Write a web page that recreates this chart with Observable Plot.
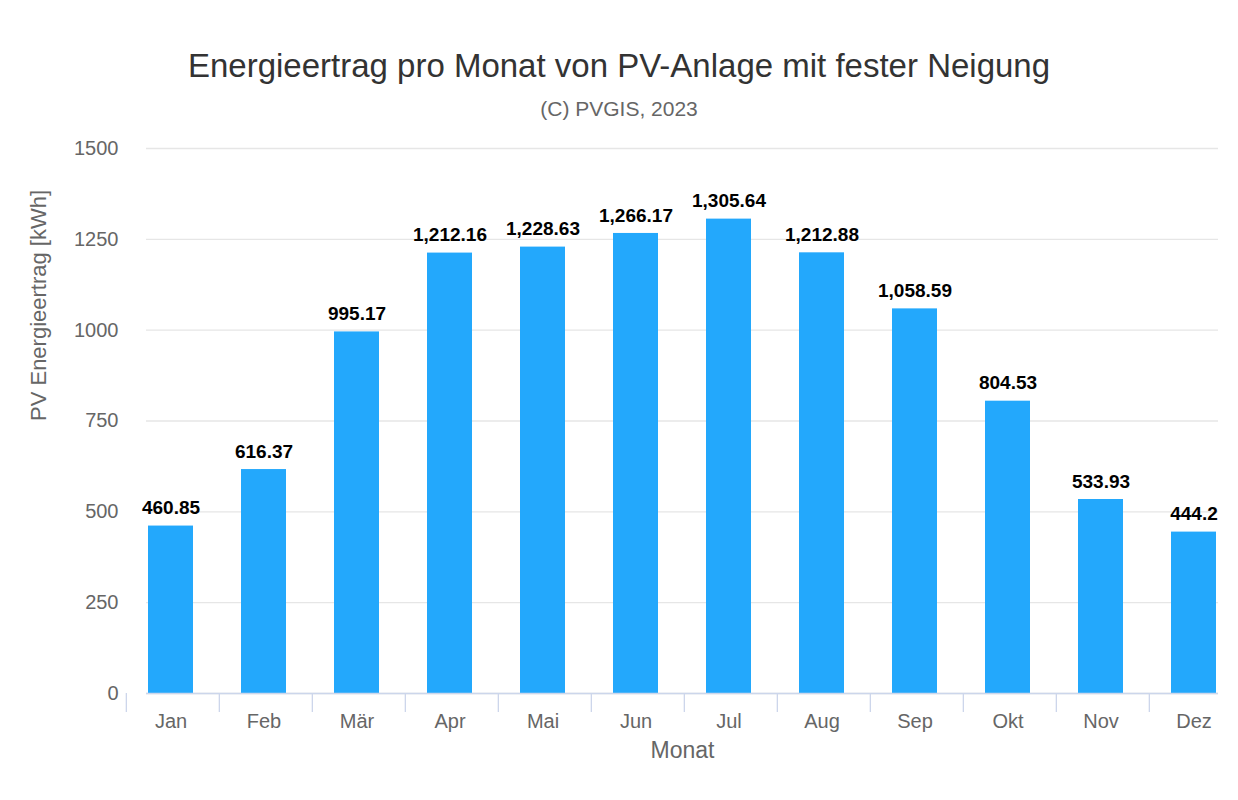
<!DOCTYPE html>
<html><head><meta charset="utf-8">
<script src="https://cdn.jsdelivr.net/npm/d3@7"></script>
<script src="https://cdn.jsdelivr.net/npm/@observablehq/plot@0.6"></script>
<style>
body{margin:0;background:#fff;font-family:"Liberation Sans",Arial,sans-serif;}
#t{position:absolute;top:47px;left:0;width:1238px;text-align:center;font-size:33px;color:#333;}
#s{position:absolute;top:97px;left:0;width:1238px;text-align:center;font-size:21px;color:#666;}
#c{position:absolute;top:130px;left:0;}
</style></head><body>
<div id="t">Energieertrag pro Monat von PV-Anlage mit fester Neigung</div>
<div id="s">(C) PVGIS, 2023</div>
<div id="c"></div>
<script>
const months=["Jan","Feb","Mär","Apr","Mai","Jun","Jul","Aug","Sep","Okt","Nov","Dez"];
const values=[460.85,616.37,995.17,1212.16,1228.63,1266.17,1305.64,1212.88,1058.59,804.53,533.93,444.2];
const yTicks=[0,250,500,750,1000,1250,1500];
const data=months.map((m,i)=>({m,v:values[i]}));
const step=(1238-146-20)/12;
const chart=Plot.plot({
  width:1238,height:670,marginTop:18,marginBottom:107,marginLeft:146,marginRight:20,
  style:{fontFamily:"'Liberation Sans', Arial, sans-serif",fontSize:"20px",color:"#666",background:"#fff"},
  x:{domain:months,paddingInner:0.52,paddingOuter:0,align:0.5,label:null,tickSize:0,tickPadding:20},
  y:{domain:[0,1500],ticks:yTicks,tickFormat:"d",label:null,tickSize:0,tickPadding:28},
  marks:[
    Plot.gridY(yTicks,{stroke:"#e6e6e6",strokeOpacity:1,strokeWidth:1.3}),
    Plot.barY(data,{x:"m",y:"v",fill:"#23a8fc"}),
    Plot.ruleY([0],{stroke:"#ccd6eb",strokeWidth:1.5}),
    Plot.ruleX(data,{x:"m",y1:0,y2:0,insetBottom:-19,dx:-step/2,stroke:"#ccd6eb",strokeWidth:1.3}),
    Plot.ruleX([months[11]],{x:d=>d,y1:0,y2:0,insetBottom:-19,dx:step/2,stroke:"#ccd6eb",strokeWidth:1.3}),
    Plot.text(data,{x:"m",y:"v",text:d=>d3.format(",")(d.v),dy:-18,fontWeight:"bold",fill:"#000",fontSize:19,style:"letter-spacing:1.5px"}),
    Plot.text(["Monat"],{frameAnchor:"bottom",dy:64,text:d=>d,fill:"#666",fontSize:23}),
    Plot.text(["PV Energieertrag [kWh]"],{frameAnchor:"left",dx:-108,rotate:-90,text:d=>d,fill:"#666",fontSize:22})
  ]
});
document.getElementById("c").append(chart);
</script></body></html>
